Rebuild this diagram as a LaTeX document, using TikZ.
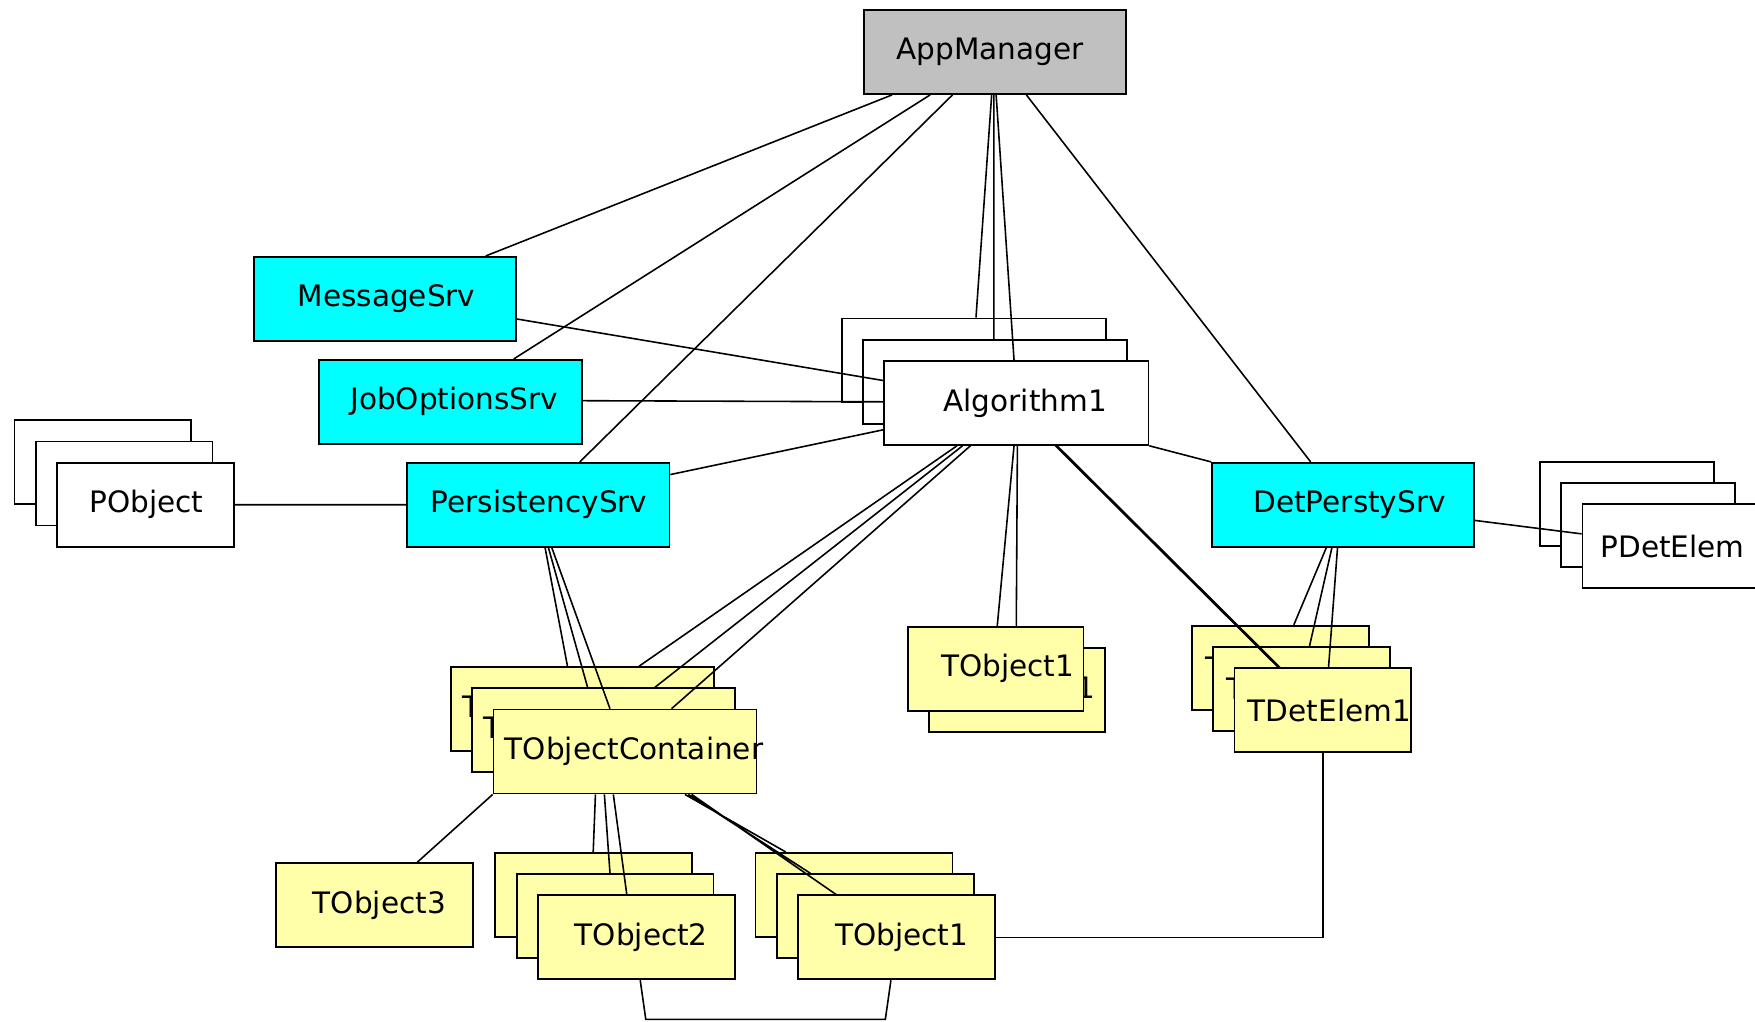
\documentclass[tikz,border=0pt]{standalone}
\usepackage{fontspec}
\setmainfont{DejaVu Sans}
\usetikzlibrary{positioning}
\definecolor{srvcyan}{RGB}{0,255,255}
\definecolor{tyellow}{RGB}{255,255,170}
\definecolor{mgrgray}{RGB}{192,192,192}
\hyphenpenalty=10000
\exhyphenpenalty=10000

\begin{document}
\begin{tikzpicture}[x=0.3185pt,y=-0.3185pt,on grid,line width=0.45pt,
  font=\fontsize{8.4}{10}\selectfont]
\tikzset{box/.style 2 args={draw, line width=0.5pt, align=left, text width=#1,
  inner xsep=#2, inner ysep=0pt, minimum height=23.9pt}}
\tikzset{srv/.style={fill=srvcyan}}
\tikzset{algbox/.style={box={41.4pt}{16.9pt}, fill=white}}
\tikzset{pobjbox/.style={box={31.9pt}{9.2pt}, fill=white}}
\tikzset{pdetbox/.style={box={39.2pt}{5.1pt}, fill=white}}
\tikzset{contbox/.style={box={68.45pt}{3.2pt}, fill=tyellow}}
\tikzset{tdetbox/.style={box={42.7pt}{3.8pt}, fill=tyellow}}
\tikzset{tobjbox/.style={box={31pt}{9.5pt}, fill=tyellow}}
\tikzset{tlowbox/.style={box={35pt}{10.5pt}, fill=tyellow}}
\useasboundingbox (0,0) rectangle (1568,913);
  % services
  \node[box={56.1pt}{9.2pt}, fill=mgrgray] (app)  at (889,46.5)  {AppManager};
  \node[box={49.7pt}{12.4pt}, srv]         (msg)  at (344,267)   {MessageSrv};
  \node[box={57pt}{8.9pt}, srv]            (job)  at (402.5,359) {JobOptionsSrv};
  \node[box={61.2pt}{6.7pt}, srv]          (pers) at (481,451)   {PersistencySrv};
  \node[box={51pt}{11.8pt}, srv]           (det)  at (1200,451)  {DetPerstySrv};
  % algorithms
  \node[algbox]  (alg1) at (870,322)                              {};
  \node[algbox]  (alg2) [below right=6.05pt and 6.05pt of alg1]   {};
  \node[algbox]  (alg3) [below right=6.05pt and 6.05pt of alg2]   {Algorithm1};
  % persistent objects
  \node[pobjbox] (pob1) at (92,413)                               {};
  \node[pobjbox] (pob2) [below right=6.05pt and 6.05pt of pob1]   {};
  \node[pobjbox] (pob3) [below right=6.05pt and 6.05pt of pob2]   {PObject};
  \node[pdetbox] (pde1) at (1453.5,450)                           {};
  \node[pdetbox] (pde2) [below right=6.05pt and 6.05pt of pde1]   {};
  \node[pdetbox] (pde3) [below right=6.05pt and 6.05pt of pde2]   {PDetElem};
  % transient store
  \node[contbox] (tc1)  at (520.5,633.5)                          {TObjectContainer};
  \node[contbox] (tc2)  [below right=6.05pt and 6.05pt of tc1]    {TObjectContainer};
  \node[contbox] (tc3)  [below right=6.05pt and 6.05pt of tc2]    {TObjectContainer};
  \node[tobjbox] (to1a) at (908.5,616.5)                          {TObject1};
  \node[tobjbox] (to1b) [above left=6.05pt and 6.05pt of to1a]    {TObject1};
  \node[tdetbox] (tde1) at (1144,596.5)                           {TDetElem1};
  \node[tdetbox] (tde2) [below right=6.05pt and 6.05pt of tde1]   {TDetElem1};
  \node[tdetbox] (tde3) [below right=6.05pt and 6.05pt of tde2]   {TDetElem1};
  \node[tlowbox] (to3)  at (334.5,808.5)                          {TObject3};
  \node[tlowbox] (to2a) at (530.5,799.5)                          {};
  \node[tlowbox] (to2b) [below right=6.05pt and 6.05pt of to2a]   {};
  \node[tlowbox] (to2c) [below right=6.05pt and 6.05pt of to2b]   {TObject2};
  \node[tlowbox] (t1a)  at (763,799.5)                            {};
  \node[tlowbox] (t1b)  [below right=6.05pt and 6.05pt of t1a]    {};
  \node[tlowbox] (t1c)  [below right=6.05pt and 6.05pt of t1b]    {TObject1};
  % links from the manager
  \draw ([shift={(-92,0)}]app.south) -- ([shift={(90,0)}]msg.north)
        ([shift={(-58,0)}]app.south) -- ([shift={(56.5,0)}]job.north)
        ([shift={(-38,0)}]app.south) -- ([shift={(37,0)}]pers.north)
        ([shift={(-3,0)}]app.south)  -- ([shift={(2,0)}]alg1.north)
        ([shift={(-1,0)}]app.south)  -- ([shift={(-1,0)}]alg2.north)
        ([shift={(1,0)}]app.south)   -- ([shift={(-2,0)}]alg3.north)
        ([shift={(28,0)}]app.south)  -- ([shift={(-29,0)}]det.north);
  % links from the algorithm
  \draw ([shift={(0,18)}]msg.east)  -- ([shift={(0,-20)}]alg3.west)
        ([shift={(0,-1)}]job.east)  -- ([shift={(0,-1)}]alg3.west)
        ([shift={(0,24)}]alg3.west) -- ([shift={(0,-27)}]pers.east)
        (alg3.south east) -- (det.north west)
        ([shift={(-53,0)}]alg3.south) -- ([shift={(50.5,0)}]tc1.north)
        ([shift={(-48,0)}]alg3.south) -- ([shift={(45.5,0)}]tc2.north)
        ([shift={(-41,0)}]alg3.south) -- ([shift={(41.5,0)}]tc3.north)
        ([shift={(-2,0)}]alg3.south)  -- ([shift={(1.5,0)}]to1b.north)
        ([shift={(1,0)}]alg3.south)   -- ([shift={(18.5,0)}]to1b.north)
        ([shift={(35,0)}]alg3.south)  -- ([shift={(-40,0)}]tde3.north)
        ([shift={(36.5,0)}]alg3.south) -- ([shift={(-38.5,0)}]tde3.north);
  % links from the persistency services
  \draw (pob3.east) -- (pers.west)
        ([shift={(6,0)}]pers.south)  -- ([shift={(-13.5,0)}]tc1.north)
        ([shift={(9,0)}]pers.south)  -- ([shift={(-14.5,0)}]tc2.north)
        ([shift={(12,0)}]pers.south) -- ([shift={(-13.5,0)}]tc3.north)
        ([shift={(0,14)}]det.east)   -- ([shift={(0,-11)}]pde3.west)
        ([shift={(-15,0)}]det.south) -- ([shift={(12,0)}]tde1.north)
        ([shift={(-10,0)}]det.south) -- ([shift={(7,0)}]tde2.north)
        ([shift={(-5,0)}]det.south)  -- ([shift={(5,0)}]tde3.north);
  % links from the container
  \draw (tc3.south west) -- ([shift={(38.5,0)}]to3.north)
        ([shift={(-26.5,0)}]tc3.south) -- ([shift={(-0.5,0)}]to2a.north)
        ([shift={(-18.5,0)}]tc3.south) -- ([shift={(-4.5,0)}]to2b.north)
        ([shift={(-10.5,0)}]tc3.south) -- ([shift={(-8.5,0)}]to2c.north)
        ([shift={(53.5,0)}]tc3.south)  -- ([shift={(-61,0)}]t1a.north)
        ([shift={(56.5,0)}]tc3.south)  -- ([shift={(-58,0)}]t1b.north)
        ([shift={(59.5,0)}]tc3.south)  -- ([shift={(-54,0)}]t1c.north);
  \draw ([shift={(3.5,0)}]to2c.south) -- ++(5,35) -- ++(214,0)
        -- ([shift={(-5,0)}]t1c.south);
  \draw (t1c.east) -| (tde3.south);
\end{tikzpicture}
\end{document}
